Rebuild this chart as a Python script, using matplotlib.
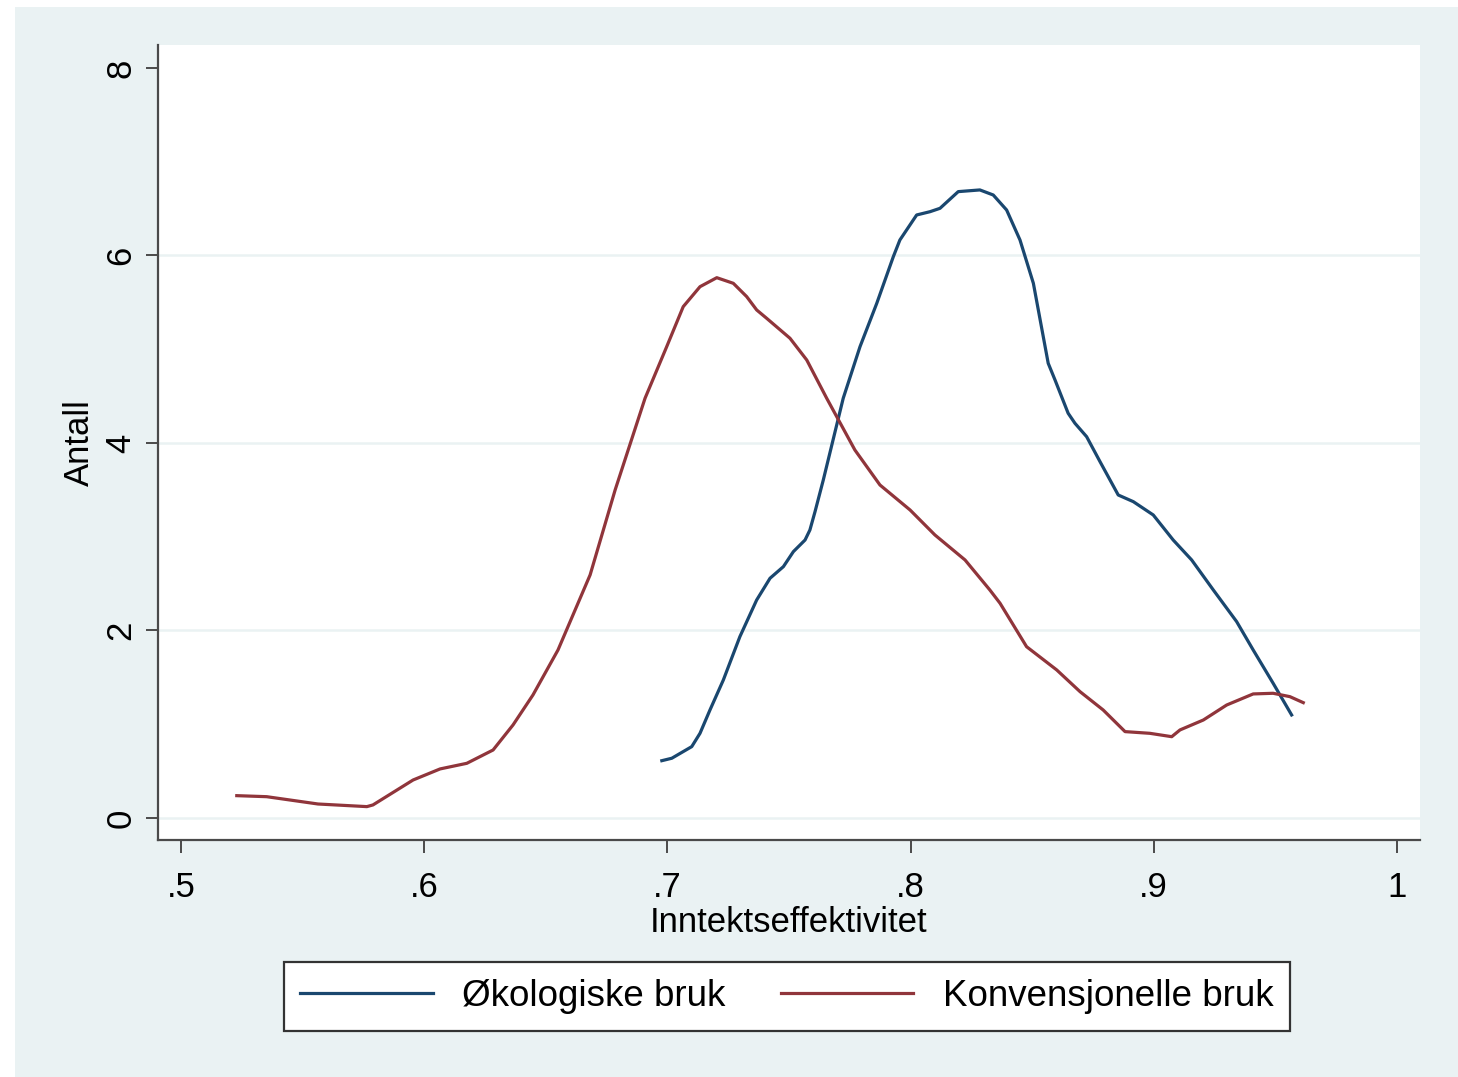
import matplotlib
matplotlib.use("Agg")
import matplotlib.pyplot as plt
from matplotlib.patches import Rectangle

PANEL = "#eaf2f3"; INK = "#000000"; AXIS = "#4a4a4a"
NAVY = "#1a476f"; MAROON = "#90353b"

plt.rcParams["font.family"] = ["Liberation Sans", "DejaVu Sans"]

# Økologiske bruk (density estimate)
oko_x = [0.6977, 0.7018, 0.7100, 0.7134, 0.7175, 0.7230, 0.7298, 0.7367, 0.7422,
         0.7477, 0.7518, 0.7566, 0.7586, 0.7607, 0.7641, 0.7723, 0.7792, 0.7861,
         0.7929, 0.7956, 0.8025, 0.8080, 0.8121, 0.8196, 0.8285, 0.8340, 0.8395,
         0.8450, 0.8505, 0.8566, 0.8594, 0.8648, 0.8676, 0.8724, 0.8779, 0.8854,
         0.8916, 0.8998, 0.9080, 0.9156, 0.9245, 0.9341, 0.9409, 0.9491, 0.9567]
oko_y = [0.611, 0.637, 0.761, 0.903, 1.152, 1.472, 1.934, 2.325, 2.557,
         2.681, 2.841, 2.965, 3.072, 3.267, 3.605, 4.477, 5.027, 5.490,
         5.987, 6.165, 6.432, 6.467, 6.503, 6.681, 6.699, 6.645, 6.485,
         6.165, 5.703, 4.850, 4.672, 4.317, 4.210, 4.067, 3.801, 3.445,
         3.374, 3.232, 2.965, 2.752, 2.432, 2.094, 1.792, 1.437, 1.099]

# Konvensjonelle bruk
konv_x = [0.5229, 0.5352, 0.5563, 0.5764, 0.5789, 0.5954, 0.6065, 0.6175, 0.6283,
          0.6365, 0.6447, 0.6550, 0.6682, 0.6785, 0.6908, 0.6997, 0.7065, 0.7134,
          0.7203, 0.7271, 0.7326, 0.7367, 0.7408, 0.7504, 0.7573, 0.7655, 0.7771,
          0.7874, 0.7998, 0.8100, 0.8224, 0.8326, 0.8368, 0.8477, 0.8601, 0.8697,
          0.8792, 0.8882, 0.8984, 0.9074, 0.9108, 0.9204, 0.9300, 0.9409, 0.9491,
          0.9560, 0.9615]
konv_y = [0.238, 0.227, 0.149, 0.121, 0.139, 0.405, 0.523, 0.583, 0.725,
          0.992, 1.312, 1.792, 2.592, 3.499, 4.477, 5.027, 5.454, 5.667,
          5.763, 5.703, 5.561, 5.419, 5.330, 5.117, 4.885, 4.477, 3.925,
          3.552, 3.285, 3.019, 2.752, 2.432, 2.290, 1.827, 1.579, 1.347,
          1.152, 0.921, 0.903, 0.867, 0.939, 1.045, 1.205, 1.323, 1.330,
          1.294, 1.230]

x_ticks = [0.5, 0.6, 0.7, 0.8, 0.9, 1.0]
x_labels = [".5", ".6", ".7", ".8", ".9", "1"]
y_ticks = [0, 2, 4, 6, 8]

fig = plt.figure(figsize=(14.58, 10.77), dpi=100)
fig.patch.set_facecolor("white")
fig.patches.append(Rectangle((15 / 1458, 0), 1, 1 - 7 / 1077, transform=fig.transFigure,
                             facecolor=PANEL, edgecolor="none", zorder=-10))
ax = fig.add_axes([158 / 1458, 1 - 840 / 1077, (1420 - 158) / 1458, (840 - 45) / 1077])
ax.set_facecolor("white")

ax.plot(oko_x, oko_y, color=NAVY, lw=2.3, label="Økologiske bruk", zorder=3)
ax.plot(konv_x, konv_y, color=MAROON, lw=2.3, label="Konvensjonelle bruk", zorder=3)

ax.set_xlim(0.4905, 1.0095)
ax.set_ylim(-0.235, 8.245)
ax.set_xticks(x_ticks, x_labels)
ax.set_yticks(y_ticks)
for t in y_ticks[:-1]:
    ax.axhline(t, color=PANEL, lw=1.8, zorder=1)

for sp in ("top", "right"):
    ax.spines[sp].set_visible(False)
for sp in ("left", "bottom"):
    ax.spines[sp].set_color(AXIS)
    ax.spines[sp].set_linewidth(1.6)
ax.tick_params(axis="both", length=9, width=1.4, color=AXIS, labelsize=25,
               labelcolor=INK, pad=6)
ax.tick_params(axis="x", pad=13)
for lab in ax.get_yticklabels():
    lab.set_rotation(90)
    lab.set_va("center")

ax.set_xlabel("Inntektseffektivitet", fontsize=25, labelpad=2)
ax.set_ylabel("Antall", fontsize=25, labelpad=6)

leg = fig.legend(loc="center", bbox_to_anchor=(787 / 1458, 1 - 996.5 / 1077), ncol=2,
                 fontsize=26.5, frameon=True, fancybox=False, framealpha=1,
                 facecolor="white", handlelength=3.6, columnspacing=1.5,
                 handletextpad=0.8, borderpad=0.45)
leg.get_frame().set_edgecolor("#333333")
leg.get_frame().set_linewidth(1.6)

fig.savefig("out.png", dpi=100)
